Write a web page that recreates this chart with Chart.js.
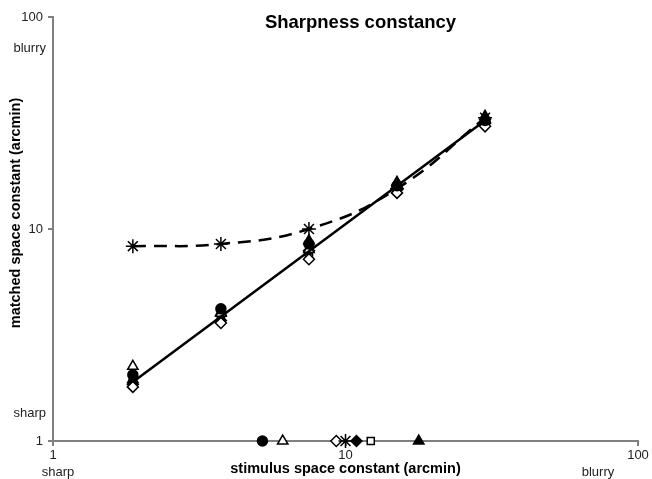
<!DOCTYPE html>
<html>
<head>
<meta charset="utf-8">
<script src="https://cdn.jsdelivr.net/npm/chart.js@4"></script>
<style>
  html, body { margin: 0; padding: 0; background: #fff; }
  #wrap { width: 652px; height: 479px; }
</style>
</head>
<body>
<div id="wrap"><canvas id="sharpChart" width="652" height="479"></canvas></div>
<script>
// stimulus space constants (arcmin)
const stimulus = [1.875, 3.75, 7.5, 15, 30];

// matched space constants per observer (arcmin)
const filledCircle   = [2.05, 4.2, 8.5, 16.0, 32.5];
const openTriangle   = [2.25, 4.0, 8.0, 16.3, 33.0];
const openDiamond    = [1.8, 3.6, 7.2, 14.8, 30.5];
const asterisk       = [8.3, 8.5, 10.0, 15.5, 33.5];
const filledDiamond  = [1.85, 3.7, 7.9, 15.3, 31.5];
const openSquare     = [2.0, 3.9, 7.6, 15.6, 32.0];
const filledTriangle = [1.95, 4.05, 8.8, 16.6, 34.0];

// markers on the x axis (one per observer, same order as above)
const axisMarks = [5.2, 6.1, 9.3, 10.0, 10.9, 12.2, 17.8];

// power-law fit through the pooled data
const fitX = [1.875, 30];
const fitY = [1.9, 32.5];

const tickValues = [1, 10, 100];

const pts = (xs, ys) => xs.map((x, i) => ({ x: x, y: ys[i] }));

const observers = [
  { data: filledCircle,   style: 'circle',   fill: '#000', r: 5 },
  { data: openTriangle,   style: 'triangle', fill: '#fff', r: 6 },
  { data: openDiamond,    style: 'rectRot',  fill: '#fff', r: 5.5 },
  { data: asterisk,       style: 'star',     fill: '#000', r: 7 },
  { data: filledDiamond,  style: 'rectRot',  fill: '#000', r: 5.5 },
  { data: openSquare,     style: 'rect',     fill: '#fff', r: 5 },
  { data: filledTriangle, style: 'triangle', fill: '#000', r: 6 }
];

const datasets = [];

// fit line
datasets.push({
  data: pts(fitX, fitY),
  showLine: true,
  borderColor: '#000',
  borderWidth: 2.5,
  pointRadius: 0,
  order: 1
});

observers.forEach((o, k) => {
  const isStar = o.style === 'star';
  datasets.push({
    data: pts(stimulus, o.data),
    showLine: isStar,
    tension: 0.45,
    borderColor: '#000',
    borderWidth: 2.5,
    borderDash: isStar ? [13, 8] : [],
    pointStyle: o.style,
    pointRadius: o.r,
    pointBackgroundColor: o.fill,
    pointBorderColor: '#000',
    pointBorderWidth: 1.5,
    order: 2 + k
  });
});

// axis markers
datasets.push({
  data: axisMarks.map(x => ({ x: x, y: 1 })),
  pointStyle: observers.map(o => o.style),
  pointRadius: observers.map(o => o.r),
  pointBackgroundColor: observers.map(o => o.fill),
  pointBorderColor: '#000',
  pointBorderWidth: 1.5,
  clip: false,
  order: 0
});

const textPlugin = {
  id: 'texts',
  afterDraw(chart) {
    const ctx = chart.ctx;
    const a = chart.chartArea;
    ctx.save();
    ctx.fillStyle = '#000';
    ctx.textAlign = 'center';
    ctx.textBaseline = 'middle';
    ctx.font = 'bold 18.5px "Liberation Sans", Arial, sans-serif';
    ctx.fillText('Sharpness constancy', (a.left + a.right) / 2 + 15, 23);

    ctx.font = 'bold 14.5px "Liberation Sans", Arial, sans-serif';
    ctx.fillText('stimulus space constant (arcmin)', (a.left + a.right) / 2, 469);
    ctx.save();
    ctx.translate(16, 213);
    ctx.rotate(-Math.PI / 2);
    ctx.fillText('matched space constant (arcmin)', 0, 0);
    ctx.restore();

    ctx.fillStyle = '#222';
    ctx.font = '13px "Liberation Sans", Arial, sans-serif';
    ctx.textAlign = 'right';
    ctx.fillText('blurry', 46, 48);
    ctx.fillText('sharp', 46, 413);
    ctx.textAlign = 'center';
    ctx.fillText('sharp', 58, 472);
    ctx.fillText('blurry', 598, 472);
    ctx.restore();
  }
};

const axisCommon = {
  type: 'logarithmic',
  min: 1,
  max: 100,
  afterBuildTicks: s => { s.ticks = tickValues.map(v => ({ value: v })); },
  border: { color: '#808080', width: 2 },
  grid: { drawOnChartArea: false, drawTicks: true, tickLength: 5, color: '#808080', lineWidth: 2 },
  title: { display: false }
};

new Chart(document.getElementById('sharpChart').getContext('2d'), {
  type: 'scatter',
  data: { datasets: datasets },
  options: {
    responsive: false,
    animation: false,
    layout: { padding: { left: 0, top: 17, right: 14, bottom: 0 } },
    plugins: { legend: { display: false }, tooltip: { enabled: false }, title: { display: false } },
    scales: {
      x: Object.assign({}, axisCommon, {
        position: 'bottom',
        afterFit: s => { s.height = 38; },
        ticks: {
          padding: 2, color: '#222', maxRotation: 0,
          font: { family: '"Liberation Sans", Arial, sans-serif', size: 13 },
          callback: v => String(v)
        }
      }),
      y: Object.assign({}, axisCommon, {
        position: 'left',
        afterFit: s => { s.width = 53; },
        ticks: {
          padding: 5, color: '#222',
          font: { family: '"Liberation Sans", Arial, sans-serif', size: 13 },
          callback: v => String(v)
        }
      })
    }
  },
  plugins: [textPlugin]
});
</script>
</body>
</html>
